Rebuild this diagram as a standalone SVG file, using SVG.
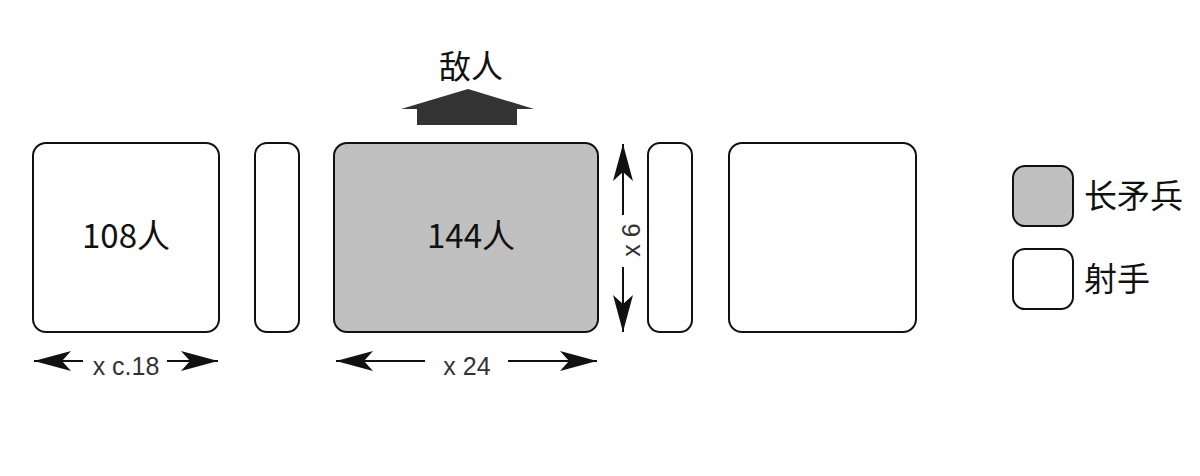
<svg xmlns="http://www.w3.org/2000/svg" width="1200" height="476" viewBox="0 0 1200 476">
<defs>
<style>
.box{stroke:#111;stroke-width:2;fill:#fff}
.gray{fill:#c0c0c0}
.cjk{font-family:"Noto Sans CJK SC","Liberation Sans",sans-serif;fill:#111}
.dim{font-family:"Liberation Sans",Arial,sans-serif;font-size:25px;fill:#333}
.dl{stroke:#111;stroke-width:2;fill:none;marker-end:url(#ah)}
</style>
<marker id="ah" markerUnits="userSpaceOnUse" viewBox="-38 -11 40 22" refX="0" refY="0" markerWidth="40" markerHeight="22" orient="auto">
<path d="M0,0 L-37,-10 L-28,0 L-37,10 Z" fill="#111"/>
</marker>
</defs>
<rect width="1200" height="476" fill="#fff"/>
<g id="enemy">
<polygon points="468,89 534,109 517,109 517,125 417,125 417,109 401,109" fill="#333"/>
<text class="cjk" x="471" y="78" font-size="32" text-anchor="middle">敌人</text>
</g>
<g id="archers-left">
<rect class="box" x="33" y="143" width="186" height="189" rx="13"/>
<text class="cjk" x="126" y="248" font-size="33" text-anchor="middle">108人</text>
</g>
<g id="narrow-left">
<rect class="box" x="255" y="143" width="44" height="189" rx="12"/>
</g>
<g id="pikemen">
<rect class="box gray" x="334" y="143" width="264" height="189" rx="13"/>
<text class="cjk" x="471" y="248" font-size="33" text-anchor="middle">144人</text>
</g>
<g id="narrow-right">
<rect class="box" x="648" y="143" width="44" height="189" rx="12"/>
</g>
<g id="archers-right">
<rect class="box" x="729" y="143" width="187" height="189" rx="13"/>
</g>
<g id="legend-pike">
<rect class="box gray" x="1013" y="166" width="60" height="60" rx="12"/>
<text class="cjk" x="1084" y="208" font-size="33">长矛兵</text>
</g>
<g id="legend-archer">
<rect class="box" x="1013" y="249" width="60" height="60" rx="12"/>
<text class="cjk" x="1084" y="291" font-size="33">射手</text>
</g>
<g id="connectors">
<path class="dl" d="M83,361 L34,361"/>
<path class="dl" d="M167,361 L218,361"/>
<text class="dim" x="126" y="375" text-anchor="middle">x c.18</text>
<path class="dl" d="M425,361 L336,361"/>
<path class="dl" d="M508,361 L597,361"/>
<text class="dim" x="467" y="375" text-anchor="middle">x 24</text>
<path class="dl" d="M623,215 L623,144"/>
<path class="dl" d="M623,267 L623,332"/>
<text class="dim" transform="translate(640,240) rotate(-90)" text-anchor="middle">x 6</text>
</g>
</svg>
